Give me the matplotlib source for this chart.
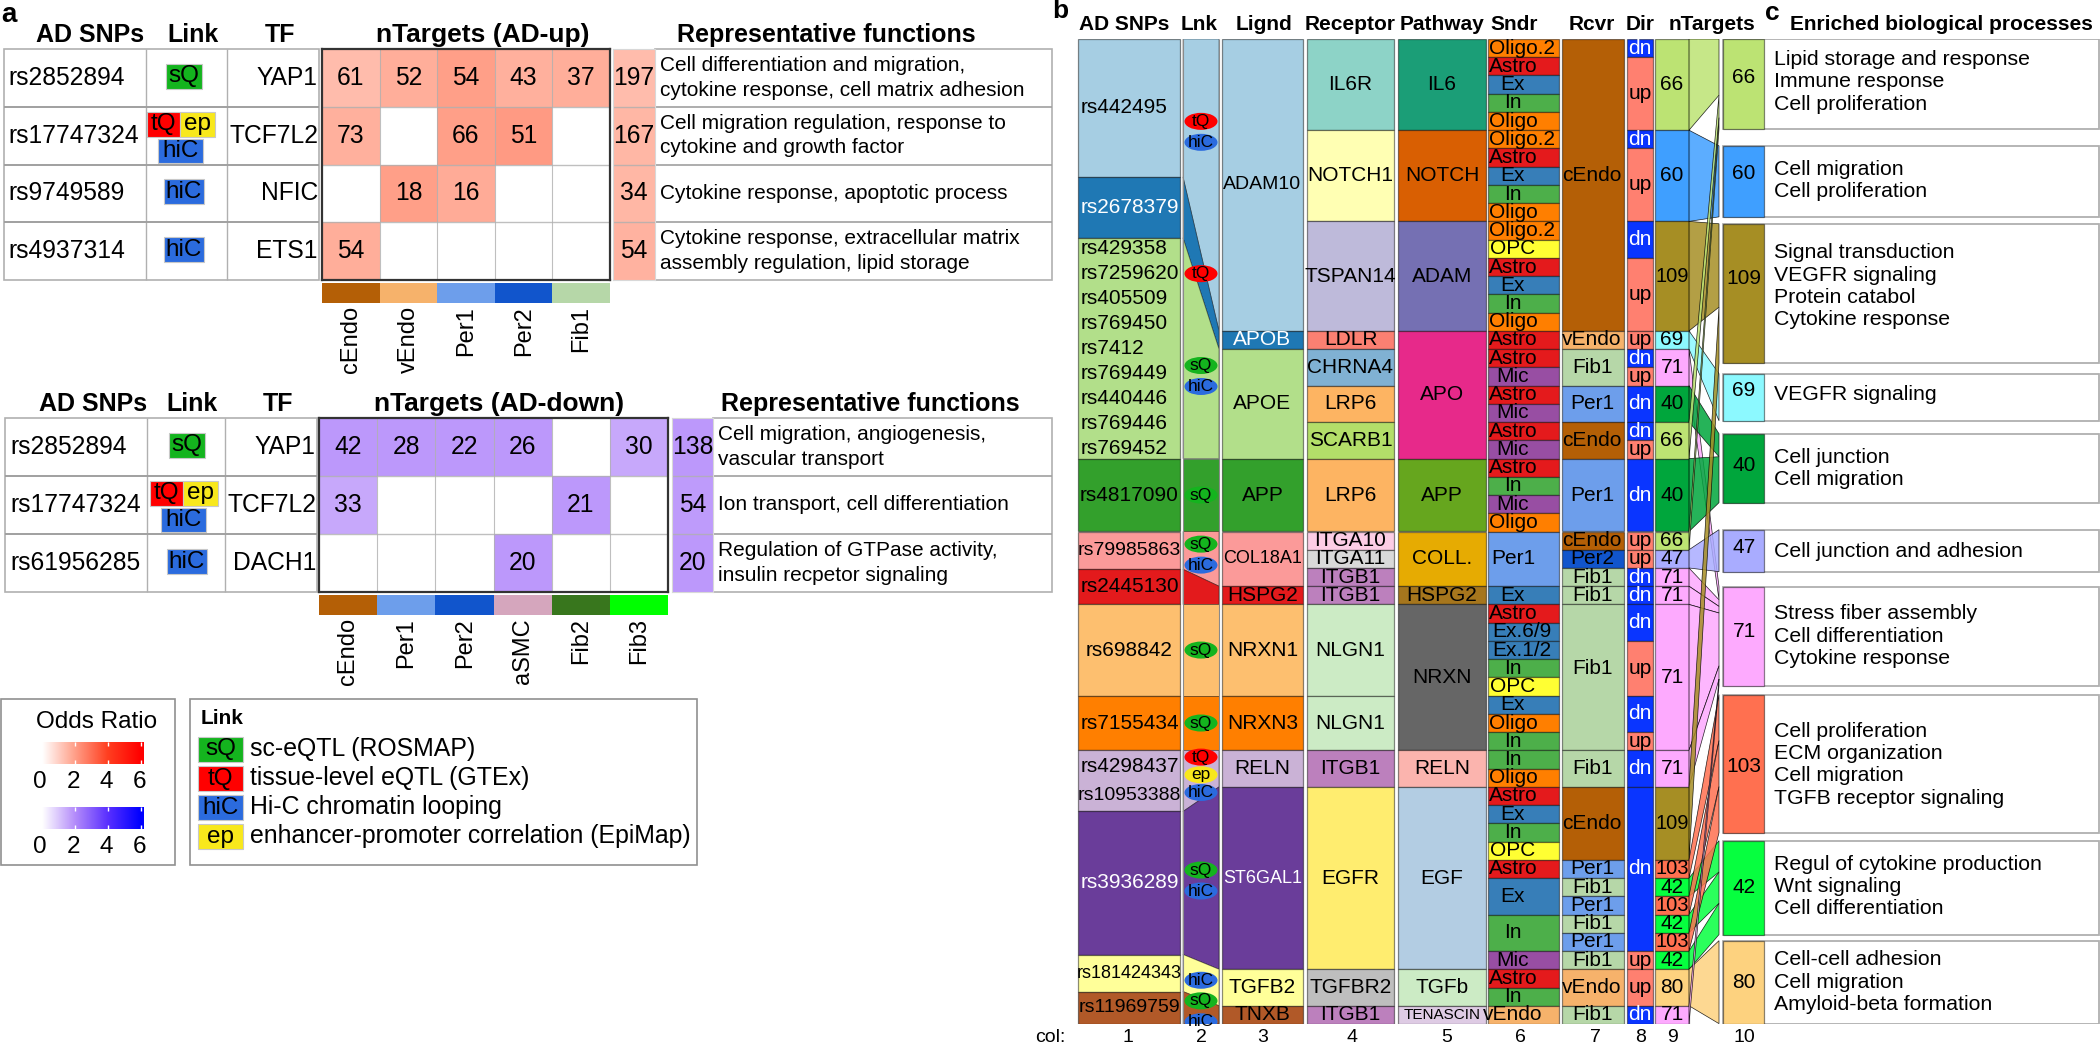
import numpy as np
import matplotlib
matplotlib.use("Agg")
import matplotlib.pyplot as plt
from matplotlib.colors import LinearSegmentedColormap
from matplotlib.patches import Ellipse, Rectangle

plt.rcParams['font.family'] = ['Liberation Sans', 'DejaVu Sans']

# ---- panel a data
up_snps = ['rs2852894', 'rs17747324', 'rs9749589', 'rs4937314']
up_links = [['sQ'], ['tQ', 'ep', 'hiC'], ['hiC'], ['hiC']]
up_tfs = ['YAP1', 'TCF7L2', 'NFIC', 'ETS1']
up_cells = ['cEndo', 'vEndo', 'Per1', 'Per2', 'Fib1']
up_counts = [[61, 52, 54, 43, 37],
             [73, None, 66, 51, None],
             [None, 18, 16, None, None],
             [54, None, None, None, None]]
up_odds = [[1.4, 1.7, 2.0, 1.65, 1.7],
           [1.65, np.nan, 2.0, 2.1, np.nan],
           [np.nan, 2.0, 1.75, np.nan, np.nan],
           [1.7, np.nan, np.nan, np.nan, np.nan]]
up_totals = [197, 167, 34, 54]
up_total_odds = [1.4, 1.5, 1.5, 1.6]
up_functions = ['Cell differentiation and migration,\ncytokine response, cell matrix adhesion',
                'Cell migration regulation, response to\ncytokine and growth factor',
                'Cytokine response, apoptotic process',
                'Cytokine response, extracellular matrix\nassembly regulation, lipid storage']

down_snps = ['rs2852894', 'rs17747324', 'rs61956285']
down_links = [['sQ'], ['tQ', 'ep', 'hiC'], ['hiC']]
down_tfs = ['YAP1', 'TCF7L2', 'DACH1']
down_cells = ['cEndo', 'Per1', 'Per2', 'aSMC', 'Fib2', 'Fib3']
down_counts = [[42, 28, 22, 26, None, 30],
               [33, None, None, None, 21, None],
               [None, None, None, 20, None, None]]
down_odds = [[1.8, 1.8, 1.8, 1.8, np.nan, 1.5],
             [1.5, np.nan, np.nan, np.nan, 1.8, np.nan],
             [np.nan, np.nan, np.nan, 1.8, np.nan, np.nan]]
down_totals = [138, 54, 20]
down_total_odds = [1.8, 1.75, 1.8]
down_functions = ['Cell migration, angiogenesis,\nvascular transport',
                  'Ion transport, cell differentiation',
                  'Regulation of GTPase activity,\ninsulin recpetor signaling']

link_names = ['sQ', 'tQ', 'hiC', 'ep']
link_descriptions = ['sc-eQTL (ROSMAP)', 'tissue-level eQTL (GTEx)',
                     'Hi-C chromatin looping', 'enhancer-promoter correlation (EpiMap)']
odds_ticks = [0, 2, 4, 6]

# ---- panel b data, sizes are in rows of the alluvial
snp_names = [['rs442495'], ['rs2678379'],
             ['rs429358', 'rs7259620', 'rs405509', 'rs769450', 'rs7412',
              'rs769449', 'rs440446', 'rs769446', 'rs769452'],
             ['rs4817090'], ['rs79985863'], ['rs2445130'], ['rs698842'], ['rs7155434'],
             ['rs4298437', 'rs10953388'], ['rs3936289'], ['rs181424343'], ['rs11969759']]
snp_sizes = [7.56, 3.34, 12.10, 4.0, 2.07, 1.93, 5.0, 3.0, 3.35, 7.84, 2.03, 1.78]
snp_links = [['tQ', 'hiC'], ['tQ'], ['sQ', 'hiC'], ['sQ'], ['sQ', 'hiC'], [], ['sQ'], ['sQ'],
             ['tQ', 'ep', 'hiC'], ['sQ', 'hiC'], ['hiC'], ['sQ', 'hiC']]

ligands = ['ADAM10', 'APOB', 'APOE', 'APP', 'COL18A1', 'HSPG2', 'NRXN1', 'NRXN3',
           'RELN', 'ST6GAL1', 'TGFB2', 'TNXB']
ligand_sizes = [16, 1, 6, 4, 3, 1, 5, 3, 2, 10, 2, 1]

receptors = ['IL6R', 'NOTCH1', 'TSPAN14', 'LDLR', 'CHRNA4', 'LRP6', 'SCARB1', 'LRP6',
             'ITGA10', 'ITGA11', 'ITGB1', 'ITGB1', 'NLGN1', 'NLGN1', 'ITGB1', 'EGFR',
             'TGFBR2', 'ITGB1']
receptor_sizes = [5, 5, 6, 1, 2, 2, 2, 4, 1, 1, 1, 1, 5, 3, 2, 10, 2, 1]

pathways = ['IL6', 'NOTCH', 'ADAM', 'APO', 'APP', 'COLL.', 'HSPG2', 'NRXN', 'RELN', 'EGF',
            'TGFb', 'TENASCIN']
pathway_sizes = [5, 5, 6, 7, 4, 3, 1, 8, 2, 10, 2, 1]

senders = ['Oligo.2', 'Astro', 'Ex', 'In', 'Oligo', 'Oligo.2', 'Astro', 'Ex', 'In', 'Oligo',
           'Oligo.2', 'OPC', 'Astro', 'Ex', 'In', 'Oligo', 'Astro', 'Astro', 'Mic', 'Astro',
           'Mic', 'Astro', 'Mic', 'Astro', 'In', 'Mic', 'Oligo', 'Per1', 'Ex', 'Astro',
           'Ex.6/9', 'Ex.1/2', 'In', 'OPC', 'Ex', 'Oligo', 'In', 'In', 'Oligo', 'Astro',
           'Ex', 'In', 'OPC', 'Astro', 'Ex', 'In', 'Mic', 'Astro', 'In', 'vEndo']
sender_sizes = [1] * 27 + [3] + [1] * 16 + [2, 2] + [1] * 4

receivers = ['cEndo', 'vEndo', 'Fib1', 'Per1', 'cEndo', 'Per1', 'cEndo', 'Per2', 'Fib1', 'Fib1',
             'Fib1', 'Fib1', 'cEndo', 'Per1', 'Fib1', 'Per1', 'Fib1', 'Per1', 'Fib1', 'vEndo',
             'Fib1']
receiver_sizes = [16, 1, 2, 2, 2, 4, 1, 1, 1, 1, 8, 2, 4, 1, 1, 1, 1, 1, 1, 2, 1]

directions = ['dn', 'up', 'dn', 'up', 'dn', 'up', 'up', 'dn', 'up', 'dn', 'dn', 'up', 'dn',
              'up', 'up', 'dn', 'dn', 'dn', 'up', 'dn', 'up', 'dn', 'dn', 'up', 'up', 'dn']
direction_sizes = [1, 4, 1, 4, 2, 4, 1, 1, 1, 2, 1, 1, 4, 1, 1, 1, 1, 2, 3, 2, 1, 2, 9, 1, 2, 1]

ntargets = [66, 60, 109, 69, 71, 40, 66, 40, 66, 47, 71, 71, 71, 71, 109, 103, 42, 103, 42,
            103, 42, 80, 71]
ntarget_sizes = [5, 5, 6, 1, 2, 2, 2, 4, 1, 1, 1, 1, 8, 2, 4, 1, 1, 1, 1, 1, 1, 2, 1]

# ---- panel c data
clusters = [66, 60, 109, 69, 40, 47, 71, 103, 42, 80]
cluster_heights = [4.93, 3.89, 7.62, 2.58, 3.78, 2.30, 5.43, 7.57, 5.15, 4.55]
cluster_gaps = [0.93, 0.38, 0.60, 0.71, 1.48, 0.82, 0.49, 0.44, 0.33, 0]
cluster_terms = ['Lipid storage and response\nImmune response\nCell proliferation',
                 'Cell migration\nCell proliferation',
                 'Signal transduction\nVEGFR signaling\nProtein catabol\nCytokine response',
                 'VEGFR signaling',
                 'Cell junction\nCell migration',
                 'Cell junction and adhesion',
                 'Stress fiber assembly\nCell differentiation\nCytokine response',
                 'Cell proliferation\nECM organization\nCell migration\nTGFB receptor signaling',
                 'Regul of cytokine production\nWnt signaling\nCell differentiation',
                 'Cell-cell adhesion\nCell migration\nAmyloid-beta formation']

# ---- colours
link_colors = {'sQ': '#14B41E', 'tQ': '#FF0000', 'hiC': '#2B6BDE', 'ep': '#F8E81C'}
cell_colors = {'cEndo': '#B45F06', 'vEndo': '#F6B26B', 'Per1': '#6D9EEB', 'Per2': '#1155CC',
               'Fib1': '#B6D7A8', 'aSMC': '#D5A6BD', 'Fib2': '#38761D', 'Fib3': '#00FF00'}
sender_colors = {'Oligo': '#FF7F00', 'Astro': '#E41A1C', 'Ex': '#377EB8', 'In': '#4DAF4A',
                 'OPC': '#FFFF33', 'Mic': '#984EA3', 'Per1': '#6D9EEB', 'vEndo': '#F6B26B'}
snp_colors = ['#A6CEE3', '#1F78B4', '#B2DF8A', '#33A02C', '#FB9A99', '#E31A1C', '#FDBF6F',
              '#FF7F00', '#CAB2D6', '#6A3D9A', '#FFFF99', '#B15928']
receptor_colors = ['#8DD3C7', '#FFFFB3', '#BEBADA', '#FB8072', '#80B1D3', '#FDB462', '#B3DE69',
                   '#FDB462', '#FCCDE5', '#D9D9D9', '#BC80BD', '#BC80BD', '#CCEBC5', '#CCEBC5',
                   '#BC80BD', '#FFED6F', '#BEBEBE', '#BC80BD']
pathway_colors = ['#1B9E77', '#D95F02', '#7570B3', '#E7298A', '#66A61E', '#E6AB02', '#A6761D',
                  '#666666', '#FBB4AE', '#B3CDE3', '#CCEBC5', '#DECBE4']
direction_colors = {'dn': '#0A35FF', 'up': '#FF8070'}
cluster_colors = {66: '#BCE373', 60: '#3F9FFF', 109: '#A68E24', 69: '#8CF9FF', 40: '#00A63C',
                  47: '#A9ACFF', 71: '#FDAAFE', 103: '#FF7050', 42: '#06FF3F', 80: '#FDD27F'}

red_map = LinearSegmentedColormap.from_list(
    'or_up', [(0, '#FFFFFF'), (2 / 6, '#FF9F88'), (4 / 6, '#FF3F20'), (1, '#FF0000')])
blue_map = LinearSegmentedColormap.from_list(
    'or_down', [(0, '#FFFFFF'), (2 / 6, '#B48CFA'), (4 / 6, '#5A30FF'), (1, '#0000FF')])

W, H = 2100, 1044
LINE = '#B0B0B0'
STRATUM_EDGE = (0, 0, 0, 0.45)

fig = plt.figure(figsize=(W / 100, H / 100), dpi=100)


def px_axes(x0, y0, x1, y1):
    """ Axes placed by picture pixels, y counted from the top. """
    return fig.add_axes([x0 / W, 1 - y1 / H, (x1 - x0) / W, (y1 - y0) / H])


canvas = px_axes(0, 0, W, H)
canvas.set_xlim(0, W)
canvas.set_ylim(H, 0)
canvas.axis('off')


def link_pill(x0, y0, x1, y1, name, size=17.5):
    canvas.add_patch(Rectangle((x0, y0), x1 - x0, y1 - y0, facecolor=link_colors[name],
                               edgecolor='#C8C8C8', linewidth=0.8))
    canvas.text((x0 + x1) / 2, (y0 + y1) / 2, name, ha='center', va='center', fontsize=size)


def heat_block(edges, top, bottom, odds, counts, cmap, framed=True):
    """ One block of odds-ratio cells with the target counts written on them. """
    ax = px_axes(edges[0], top, edges[-1], bottom)
    data = np.array(odds, dtype=float)
    nrow, ncol = data.shape
    ax.pcolormesh(np.arange(ncol + 1), np.arange(nrow + 1), data, cmap=cmap, vmin=0, vmax=6)
    ax.set_xlim(0, ncol)
    ax.set_ylim(nrow, 0)
    ax.set_xticks([])
    ax.set_yticks([])
    if framed:
        ax.vlines(np.arange(1, ncol), 0, nrow, color=LINE, linewidth=0.8, alpha=0.8)
    ax.hlines(np.arange(1, nrow), 0, ncol, color=LINE, linewidth=1.0, alpha=0.8)
    for sp in ax.spines.values():
        sp.set_color('#333333' if framed else '#D8D8D8')
        sp.set_linewidth(1.6 if framed else 0.8)
    for i, row in enumerate(counts):
        for j, n in enumerate(row):
            if n is not None:
                ax.text(j + 0.5, i + 0.5, str(n), ha='center', va='center', fontsize=17.7)


def table_block(snps, links, tfs, functions, counts, odds, totals, total_odds, cells, cmap,
                top, bottom, xs, heat_edges, total_x, title, title_xs, link_cx, snp_x):
    nrow = len(snps)
    rows = np.linspace(top, bottom, nrow + 1)
    # left table
    canvas.add_patch(Rectangle((xs[0], top), xs[3] - xs[0], bottom - top, facecolor='white',
                               edgecolor=LINE, linewidth=1.2))
    canvas.vlines(xs[1:3], top, bottom, color=LINE, linewidth=1.0)
    canvas.hlines(rows[1:-1], xs[0], xs[3], color='#A0A0A0', linewidth=1.4)
    # function text table
    canvas.add_patch(Rectangle((total_x[1], top), 1052 - total_x[1], bottom - top, facecolor='white',
                               edgecolor=LINE, linewidth=1.2))
    canvas.hlines(rows[1:-1], total_x[1], 1052, color='#A0A0A0', linewidth=1.2)

    for i in range(nrow):
        cy = (rows[i] + rows[i + 1]) / 2
        canvas.text(snp_x, cy, snps[i], ha='left', va='center', fontsize=17.7)
        canvas.text(xs[3] - 1, cy, tfs[i], ha='right', va='center', fontsize=17.7)
        canvas.text(total_x[1] + 5, cy, functions[i], ha='left', va='center', fontsize=15,
                    linespacing=1.35)
        if len(links[i]) == 1:
            name = links[i][0]
            half = 20 if name == 'hiC' else 18
            link_pill(link_cx - half, cy - 14, link_cx + half, cy + 11, name)
        else:
            link_pill(link_cx - 37, cy - 24, link_cx - 4, cy + 1, links[i][0])
            link_pill(link_cx - 4, cy - 24, link_cx + 31, cy + 1, links[i][1])
            link_pill(link_cx - 26, cy + 3, link_cx + 19, cy + 27, links[i][2])

    heat_block(heat_edges, top, bottom, odds, counts, cmap)
    heat_block(total_x, top, bottom, [[v] for v in total_odds], [[v] for v in totals], cmap,
               framed=False)

    # strip of cell type colours and rotated names
    strip = px_axes(heat_edges[0], bottom + 3, heat_edges[-1], bottom + 23)
    strip.bar(np.arange(len(cells)), 1, width=1, align='edge',
              color=[cell_colors[c] for c in cells])
    strip.set_xlim(0, len(cells))
    strip.set_ylim(0, 1)
    strip.axis('off')
    centers = (np.array(heat_edges[:-1]) + np.array(heat_edges[1:])) / 2
    for cx, c in zip(centers, cells):
        canvas.text(cx, bottom + 26, c, rotation=90, ha='center', va='top', fontsize=17)

    head_y = top - 14
    for k, (tx, head) in enumerate(zip(title_xs, ['AD SNPs', 'Link', 'TF', title,
                                                  'Representative functions'])):
        canvas.text(tx, head_y, head, ha='center', va='center', fontsize=19 if k == 3 else 18,
                    fontweight='bold')


table_block(up_snps, up_links, up_tfs, up_functions, up_counts, up_odds, up_totals, up_total_odds,
            up_cells, red_map, 49, 280, [4, 146, 227, 319], [322, 380, 437, 495, 553, 610],
            [613, 655], 'nTargets (AD-up)', [90, 193, 280, 483, 826], 184, 8)
table_block(down_snps, down_links, down_tfs, down_functions, down_counts, down_odds, down_totals,
            down_total_odds, down_cells, blue_map, 418, 592, [5, 147, 225, 317],
            [319, 377, 436, 494, 552, 610, 668], [672, 713], 'nTargets (AD-down)',
            [93, 192, 278, 499, 870], 187, 10)

# ---- odds ratio legend
canvas.add_patch(Rectangle((1, 699), 174, 166, facecolor='white', edgecolor='#909090', linewidth=1.2))
canvas.text(97, 722, 'Odds Ratio', ha='center', va='center', fontsize=17.5)
for (y0, y1), cmap in zip([(742, 764), (807, 829)], [red_map, blue_map]):
    cax = px_axes(42, y0, 144, y1)
    cax.imshow(np.linspace(0, 6.2, 200)[None, :], cmap=cmap, vmin=0, vmax=6, aspect='auto',
               extent=(0, 6.2, 0, 1))
    cax.vlines(odds_ticks[1:], 0, 0.2, color='white', linewidth=1)
    cax.vlines(odds_ticks[1:], 0.8, 1, color='white', linewidth=1)
    cax.axis('off')
    for v in odds_ticks:
        canvas.text(40 + v * 16.6, y1 + 18, str(v), ha='center', va='center', fontsize=17.5)

# ---- link legend
canvas.add_patch(Rectangle((190, 699), 507, 166, facecolor='white', edgecolor='#909090', linewidth=1.2))
canvas.text(201, 718, 'Link', ha='left', va='center', fontsize=15, fontweight='bold')
for k, (name, desc) in enumerate(zip(link_names, link_descriptions)):
    y0 = 737 + k * 29
    link_pill(198, y0, 243, y0 + 25, name)
    canvas.text(250, y0 + 12, desc, ha='left', va='center', fontsize=17.9)

# panel letters, column headers of b and c
canvas.text(1, 15, 'a', ha='left', va='center', fontsize=20, fontweight='bold')
canvas.text(1052, 11, 'b', ha='left', va='center', fontsize=19, fontweight='bold')
canvas.text(1765, 13, 'c', ha='left', va='center', fontsize=19, fontweight='bold')
b_heads = ['AD SNPs', 'Lnk', 'Lignd', 'Receptor', 'Pathway', 'Sndr', 'Rcvr', 'Dir', 'nTargets',
           'Enriched biological processes']
b_head_x = [1124, 1199, 1264, 1350, 1442, 1514, 1592, 1640, 1712, 1941]
for tx, head in zip(b_head_x, b_heads):
    canvas.text(tx, 25, head, ha='center', va='center', fontsize=15, fontweight='bold')
col_num_x = [1128, 1201, 1263, 1352, 1447, 1520, 1595, 1641, 1672, 1744]
canvas.text(1035, 1037, 'col:', ha='left', va='center', fontsize=14)
for k, tx in enumerate(col_num_x):
    canvas.text(tx, 1037, str(k + 1), ha='center', va='center', fontsize=14)

# ---- alluvial, x in picture pixels and y in rows
TOP, BOTTOM = 39, 1024
ax = px_axes(1070, TOP, W, BOTTOM)
ax.set_xlim(1070, W)
ax.set_ylim(sum(ligand_sizes), 0)
ax.axis('off')
ax.patch.set_alpha(0)
rows_per_px = sum(ligand_sizes) / (BOTTOM - TOP)


def tops_of(sizes):
    return np.concatenate([[0], np.cumsum(sizes)[:-1]])


def stack_column(x0, x1, sizes, colors):
    tops = tops_of(sizes)
    ax.bar(x0, sizes, bottom=tops, width=x1 - x0, align='edge', color=colors,
           edgecolor=STRATUM_EDGE, linewidth=0.9)
    return tops


# column 1, SNPs
snp_tops = stack_column(1078, 1180, snp_sizes, snp_colors)
for k, names in enumerate(snp_names):
    cy = snp_tops[k] + snp_sizes[k] / 2
    color = 'white' if names[0] in ('rs2678379', 'rs3936289') else 'black'
    spacing = 1.37 if len(names) > 2 else 1.55
    for j, name in enumerate(names):
        size = 15 if len(name) <= 9 else 14 if len(name) == 10 else 13
        y = cy + (j - (len(names) - 1) / 2) * spacing
        if k in (0, 2):
            ax.text(1081, y, name, ha='left', va='center', fontsize=size, color=color)
        else:
            ax.text(1129.5, y, name, ha='center', va='center', fontsize=size, color=color)

# column 2, flows from the SNP blocks to the ligand blocks with the link pills
lig_tops = tops_of(ligand_sizes)
for k in range(len(snp_sizes)):
    lt, lb = snp_tops[k], snp_tops[k] + snp_sizes[k]
    rt, rb = lig_tops[k], lig_tops[k] + ligand_sizes[k]
    ax.fill([1183, 1219, 1219, 1183], [lt, rt, rb, lb], facecolor=snp_colors[k],
            edgecolor=STRATUM_EDGE, linewidth=0.6)
ax.vlines([1183, 1219], 0, sum(ligand_sizes), color='#8A8A8A', linewidth=0.8)
for k, pills in enumerate(snp_links):
    lt, lb = snp_tops[k], snp_tops[k] + snp_sizes[k]
    rt, rb = lig_tops[k], lig_tops[k] + ligand_sizes[k]
    cy = (lt + lb + rt + rb) / 4
    if k == 0:
        cy -= 0.8
    gap = 0.97 if len(pills) > 2 else 1.15
    for j, name in enumerate(pills):
        y = cy + (j - (len(pills) - 1) / 2) * gap
        ax.add_patch(Ellipse((1201, y), 33, 17 * rows_per_px, facecolor=link_colors[name],
                             edgecolor='none', zorder=3))
        ax.text(1201, y, name, ha='center', va='center', fontsize=12.5, zorder=4)

# column 3, ligands
stack_column(1222, 1303, ligand_sizes, snp_colors)
small_font = {'ADAM10': 14, 'COL18A1': 13, 'ST6GAL1': 13, 'TENASCIN': 11}
for k, name in enumerate(ligands):
    ax.text(1262.5, lig_tops[k] + ligand_sizes[k] / 2, name, ha='center', va='center',
            fontsize=small_font.get(name, 15),
            color='white' if name in ('APOB', 'ST6GAL1') else 'black')

# column 4, receptors
rec_tops = stack_column(1307, 1394, receptor_sizes, receptor_colors)
for k, name in enumerate(receptors):
    ax.text(1350.5, rec_tops[k] + receptor_sizes[k] / 2, name, ha='center', va='center', fontsize=15)

# column 5, pathways
path_tops = stack_column(1398, 1486, pathway_sizes, pathway_colors)
for k, name in enumerate(pathways):
    ax.text(1442, path_tops[k] + pathway_sizes[k] / 2, name, ha='center', va='center',
            fontsize=small_font.get(name, 15))

# column 6, sender cell types
send_colors = [sender_colors[s.split('.')[0]] for s in senders]
send_tops = stack_column(1488, 1559, sender_sizes, send_colors)
for k, name in enumerate(senders):
    tx = 1522 if len(name) > 5 else 1513
    ax.text(tx, send_tops[k] + sender_sizes[k] / 2, name, ha='center', va='center', fontsize=15)

# column 7, receiver cell types
recv_tops = stack_column(1562, 1624, receiver_sizes, [cell_colors[c] for c in receivers])
for k, name in enumerate(receivers):
    shift = -0.5 if receiver_sizes[k] > 4 else 0   # long blocks carry their name a bit high
    ax.text(1592, recv_tops[k] + receiver_sizes[k] / 2 + shift, name, ha='center', va='center',
            fontsize=15)

# column 8, direction
dir_tops = stack_column(1627, 1653, direction_sizes, [direction_colors[d] for d in directions])
for k, name in enumerate(directions):
    ax.text(1640, dir_tops[k] + direction_sizes[k] / 2, name, ha='center', va='center', fontsize=15,
            color='white' if name == 'dn' else 'black')

# column 10 and its text boxes
box_tops = np.concatenate([[0], np.cumsum(np.array(cluster_heights) + np.array(cluster_gaps))[:-1]])
number_shift = np.array([-6, -8, -15, -7, -3, -3, -5, 3, 0, 0]) * rows_per_px
term_shift = np.array([-2, -1, -7, -3, 0, 1, 0, 1, -1, 0]) * rows_per_px
for k, n in enumerate(clusters):
    ax.add_patch(Rectangle((1723, box_tops[k]), W - 1 - 1723, cluster_heights[k], facecolor='white',
                           edgecolor=LINE, linewidth=1.3))
    ax.bar(1723, cluster_heights[k], bottom=box_tops[k], width=41, align='edge',
           color=cluster_colors[n], edgecolor=STRATUM_EDGE, linewidth=0.9)
    cy = box_tops[k] + cluster_heights[k] / 2
    ax.text(1744, cy + number_shift[k], str(n), ha='center', va='center', fontsize=15)
    ax.text(1774, cy + term_shift[k], cluster_terms[k], ha='left', va='center', fontsize=15.3,
            linespacing=1.22)

# column 9 and the flows into column 10
nt_tops = stack_column(1655, 1689, ntarget_sizes, [cluster_colors[n] for n in ntargets])
cluster_rows = {n: sum(s for t, s in zip(ntargets, ntarget_sizes) if t == n) for n in clusters}
cursor = {n: box_tops[k] for k, n in enumerate(clusters)}
heights = dict(zip(clusters, cluster_heights))
for k, n in enumerate(ntargets):
    share = heights[n] * ntarget_sizes[k] / cluster_rows[n]
    lt, lb = nt_tops[k], nt_tops[k] + ntarget_sizes[k]
    rt, rb = cursor[n], cursor[n] + share
    cursor[n] = rb
    ax.fill([1689, 1719, 1719, 1689], [lt, rt, rb, lb], facecolor=cluster_colors[n],
            edgecolor=STRATUM_EDGE, linewidth=0.5, alpha=0.85)
for k, n in enumerate(ntargets):
    ax.text(1672, nt_tops[k] + ntarget_sizes[k] / 2, str(n), ha='center', va='center',
            fontsize=14.5 if n > 100 else 15)

fig.savefig('out.png', dpi=100)
